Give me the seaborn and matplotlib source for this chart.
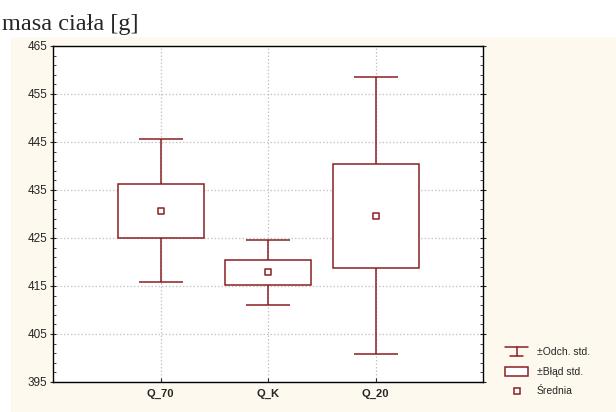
import matplotlib
matplotlib.use("Agg")
import matplotlib.pyplot as plt
from matplotlib.lines import Line2D
from matplotlib.patches import Rectangle
import seaborn as sns
import pandas as pd

# ---- data ----
groups = ["Q_70", "Q_K", "Q_20"]
means = [430.7, 417.85, 429.6]
std_err = [5.6, 2.55, 10.8]
std_dev = [14.9, 6.8, 28.85]
y_ticks = [395, 405, 415, 425, 435, 445, 455, 465]
legend_labels = ["±Odch. std.", "±Błąd std.", "Średnia"]
title = "masa ciała [g]"

df = pd.DataFrame({"grupa": groups, "srednia": means, "se": std_err, "sd": std_dev})

sns.set_style("white")
plt.rcParams["font.family"] = ["Liberation Sans", "DejaVu Sans"]

RED = "#8b1f22"
W, H = 616, 412
fig = plt.figure(figsize=(W / 100, H / 100), dpi=100)
fig.patch.set_facecolor("white")
fig.add_artist(Rectangle((11 / W, 0), 1 - 11 / W, 1 - 37 / H,
                         transform=fig.transFigure, facecolor="#fdf9ef",
                         edgecolor="none", zorder=-10))

ax = fig.add_axes([53 / W, 1 - 382 / H, 430 / W, 336 / H])
ax.set_facecolor("white")

# SD whiskers
ax.errorbar(df["grupa"], df["srednia"], yerr=df["sd"], fmt="none",
            ecolor=RED, elinewidth=1.1, capsize=16, capthick=1.1, zorder=2)
# SE boxes
ax.bar(df["grupa"], 2 * df["se"], bottom=df["srednia"] - df["se"], width=0.8,
       facecolor="white", edgecolor=RED, linewidth=1.1, zorder=3)
# means
sns.scatterplot(data=df, x="grupa", y="srednia", marker="s", s=22,
                facecolor="white", edgecolor=RED, linewidth=1.1, ax=ax, zorder=4)

ax.set_xlim(-1, 3)
ax.set_ylim(y_ticks[0], y_ticks[-1])
ax.set_yticks(y_ticks)
ax.set_yticks([v for v in range(y_ticks[0], y_ticks[-1] + 1) if (v - y_ticks[0]) % 2 == 0
               and v not in y_ticks], minor=True)
ax.set_xlabel("")
ax.set_ylabel("")
ax.grid(True, which="major", color="#c4c4c4", linestyle=(0, (1.2, 1.6)), linewidth=0.9)
ax.set_axisbelow(True)
for sp in ax.spines.values():
    sp.set_color("black")
    sp.set_linewidth(1.0)
ax.tick_params(axis="y", which="major", direction="inout", left=True, right=True,
               length=4, width=0.8, labelsize=8.5, pad=2)
ax.tick_params(axis="y", which="minor", direction="in", left=True, right=True,
               length=2.5, width=0.6)
ax.tick_params(axis="x", which="major", direction="in", bottom=True, length=3,
               width=0.8, labelsize=8, pad=5)
for lbl in ax.get_xticklabels():
    lbl.set_fontweight("bold")

fig.text(2 / W, 1 - 30 / H, title, family=["Liberation Serif", "DejaVu Serif"],
         fontsize=17.5, ha="left", va="baseline")

# legend (manual)
tf = fig.transFigure
def fx(x): return x / W
def fy(y): return 1 - y / H
# SD symbol
fig.add_artist(Line2D([fx(505), fx(528)], [fy(347), fy(347)], color=RED, lw=1.1, transform=tf))
fig.add_artist(Line2D([fx(516.5), fx(516.5)], [fy(347), fy(356)], color=RED, lw=1.1, transform=tf))
fig.add_artist(Line2D([fx(510), fx(523)], [fy(356), fy(356)], color=RED, lw=1.1, transform=tf))
# SE symbol
fig.add_artist(Rectangle((fx(505), fy(376)), fx(528) - fx(505), fy(367) - fy(376),
                         transform=tf, facecolor="white", edgecolor=RED, lw=1.1))
# mean symbol
fig.add_artist(Line2D([fx(516.5)], [fy(391)], marker="s", markersize=4.5,
                      markerfacecolor="white", markeredgecolor=RED, mew=1.1,
                      linestyle="none", transform=tf))
for y, t in zip([352, 372, 391], legend_labels):
    fig.text(fx(537), fy(y), t, fontsize=7.5, ha="left", va="center")

fig.savefig("out.png", dpi=100)
